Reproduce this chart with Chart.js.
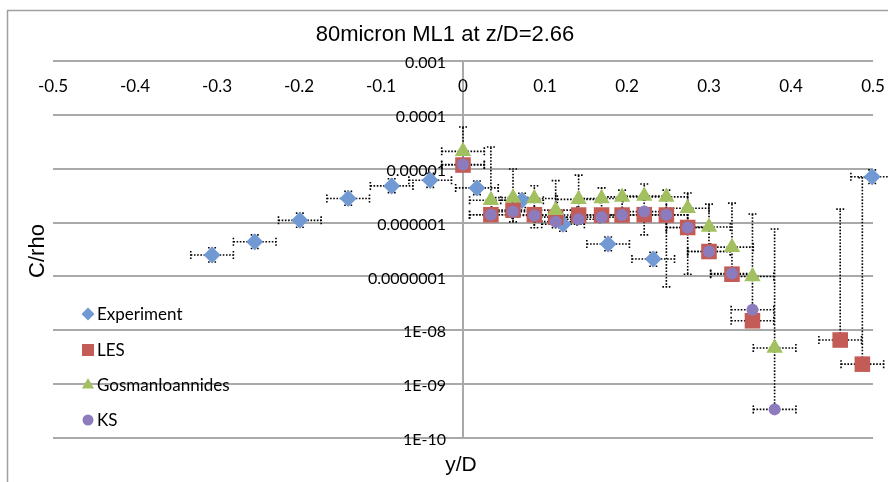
<!DOCTYPE html>
<html>
<head>
<meta charset="utf-8">
<script src="https://cdn.jsdelivr.net/npm/chart.js@4.4.1/dist/chart.umd.min.js"></script>
<style>
  html, body { margin: 0; padding: 0; background: #fff; }
  #wrap { width: 888px; height: 482px; position: relative; }
</style>
</head>
<body>
<div id="wrap"><canvas id="plumeChart"></canvas></div>
<script>
// ---------- axes ----------
const xTicks = [-0.5, -0.4, -0.3, -0.2, -0.1, 0, 0.1, 0.2, 0.3, 0.4, 0.5];
const xTickLabels = ['-0.5', '-0.4', '-0.3', '-0.2', '-0.1', '0', '0.1', '0.2', '0.3', '0.4', '0.5'];
const yTicks = [1e-3, 1e-4, 1e-5, 1e-6, 1e-7, 1e-8, 1e-9, 1e-10];
const yTickLabels = ['0.001', '0.0001', '0.00001', '0.000001', '0.0000001', '1E-08', '1E-09', '1E-10'];

// ---------- experiment ----------
const expX = [-0.306, -0.254, -0.199, -0.140, -0.087, -0.040, 0.017, 0.072, 0.122, 0.177, 0.232, 0.499];
const expY = [2.5e-7, 4.4e-7, 1.1e-6, 2.8e-6, 4.8e-6, 6.1e-6, 4.4e-6, 2.6e-6, 9.3e-7, 4.0e-7, 2.1e-7, 7.1e-6];
const expLo = [1.85e-7, 3.3e-7, 8.2e-7, 2.1e-6, 3.6e-6, 4.5e-6, 3.3e-6, 1.9e-6, 6.9e-7, 3.0e-7, 1.55e-7, 5.3e-6];
const expHi = [3.4e-7, 5.9e-7, 1.5e-6, 3.8e-6, 6.5e-6, 8.2e-6, 5.9e-6, 3.5e-6, 1.25e-6, 5.4e-7, 2.8e-7, 9.5e-6];

// ---------- LES ----------
const lesX = [0, 0.034, 0.061, 0.087, 0.113, 0.141, 0.169, 0.194, 0.221, 0.248, 0.274, 0.300, 0.328, 0.353, 0.460, 0.487];
const lesY = [1.17e-5, 1.4e-6, 1.7e-6, 1.4e-6, 1.26e-6, 1.38e-6, 1.38e-6, 1.38e-6, 1.4e-6, 1.38e-6, 8.1e-7, 2.9e-7, 1.1e-7, 1.5e-8, 6.6e-9, 2.35e-9];
const lesLo = [null, null, null, null, null, null, null, null, null, null, null, null, null, null, 6.6e-9, 2.35e-9];
const lesHi = [null, null, null, null, null, null, null, null, null, null, null, null, null, null, 1.78e-6, 6.8e-6];

// ---------- Gosman-Ioannides ----------
const gosX = [0, 0.034, 0.061, 0.087, 0.113, 0.141, 0.169, 0.194, 0.221, 0.248, 0.274, 0.300, 0.328, 0.353, 0.380];
const gosY = [2.1e-5, 2.6e-6, 2.9e-6, 2.8e-6, 1.7e-6, 2.7e-6, 2.8e-6, 3.0e-6, 3.1e-6, 3.0e-6, 1.84e-6, 8.3e-7, 3.5e-7, 1.0e-7, 4.7e-9];
const gosLo = [9.5e-6, 1.44e-6, 1.03e-6, 8.0e-7, 8.0e-7, 1.38e-6, 1.38e-6, 1.38e-6, 5.9e-7, 6.4e-8, 1.1e-7, 2.85e-7, 9.8e-8, 1.55e-8, 3.5e-10];
const gosHi = [5.96e-5, 2.53e-5, 9.9e-6, 4.84e-6, 6.0e-6, 7.6e-6, 4.4e-6, 4.0e-6, 5.2e-6, 4.0e-6, 3.54e-6, 2.2e-6, 2.3e-6, 1.44e-6, 7.6e-7];

// ---------- KS ----------
const ksX = [0, 0.034, 0.061, 0.087, 0.113, 0.141, 0.169, 0.194, 0.221, 0.248, 0.274, 0.300, 0.328, 0.353, 0.380];
const ksY = [1.2e-5, 1.4e-6, 1.6e-6, 1.35e-6, 1.04e-6, 1.15e-6, 1.26e-6, 1.38e-6, 1.6e-6, 1.4e-6, 8.1e-7, 2.9e-7, 1.13e-7, 2.4e-8, 3.4e-10];

// horizontal error half-width (y/D), same for every series
const xErr = 0.026;

const toPoints = (xs, ys) => xs.map((v, i) => ({ x: v, y: ys[i] }));

const FONT = 'Lato, "Liberation Sans", sans-serif';
const GRID = '#a9a9a9';

// gridlines, axis line, tick labels and titles
const frame = {
    id: 'frame',
    beforeDatasetsDraw(chart) {
        const { ctx, chartArea: a, scales: { x, y } } = chart;
        ctx.save();

        ctx.fillStyle = '#fff';
        ctx.fillRect(0, 0, chart.width, chart.height);

        ctx.strokeStyle = '#a0a0a0';
        ctx.lineWidth = 1.5;
        ctx.strokeRect(7.5, 10.5, chart.width + 10, chart.height + 10);

        ctx.strokeStyle = GRID;
        ctx.lineWidth = 2;
        yTicks.forEach(v => {
            const py = Math.round(y.getPixelForValue(v));
            ctx.beginPath();
            ctx.moveTo(a.left, py);
            ctx.lineTo(a.right, py);
            ctx.stroke();
        });

        const x0 = Math.round(x.getPixelForValue(0));
        ctx.beginPath();
        ctx.moveTo(x0, a.top);
        ctx.lineTo(x0, a.bottom);
        ctx.stroke();

        ctx.fillStyle = '#000';
        ctx.font = '16px ' + FONT;
        ctx.textAlign = 'right';
        ctx.textBaseline = 'middle';
        yTicks.forEach((v, i) => {
            ctx.fillText(yTickLabels[i], x0 - 17, y.getPixelForValue(v) + 2);
        });

        ctx.textAlign = 'center';
        ctx.font = '17px ' + FONT;
        const labelY = (y.getPixelForValue(1e-3) + y.getPixelForValue(1e-4)) / 2 - 1;
        xTicks.forEach((v, i) => {
            ctx.fillText(xTickLabels[i], x.getPixelForValue(v), labelY);
        });

        ctx.font = '22px "Liberation Sans", Arial, sans-serif';
        ctx.fillText('80micron ML1 at z/D=2.66', 445, 35);

        ctx.font = '21px "Liberation Sans", Arial, sans-serif';
        ctx.fillText('y/D', 461, 465);

        ctx.save();
        ctx.translate(38, 251);
        ctx.rotate(-Math.PI / 2);
        ctx.font = '22px "Liberation Sans", Arial, sans-serif';
        ctx.fillText('C/rho', 0, 0);
        ctx.restore();

        ctx.restore();
    }
};

// dotted error bars with small caps
const errorBars = {
    id: 'errorBars',
    beforeDatasetsDraw(chart) {
        const { ctx, scales: { x, y } } = chart;
        const cap = 4;
        ctx.save();
        ctx.strokeStyle = '#000';
        ctx.lineWidth = 1.6;
        ctx.setLineDash([1.6, 1.6]);

        const seg = (x1, y1, x2, y2) => {
            ctx.beginPath();
            ctx.moveTo(x1, y1);
            ctx.lineTo(x2, y2);
            ctx.stroke();
        };

        chart.data.datasets.forEach(ds => {
            ds.data.forEach((p, i) => {
                const px = x.getPixelForValue(p.x);
                const py = y.getPixelForValue(p.y);

                const xl = x.getPixelForValue(p.x - ds.xErr);
                const xr = x.getPixelForValue(p.x + ds.xErr);
                seg(xl, py, xr, py);
                seg(xl, py - cap, xl, py + cap);
                seg(xr, py - cap, xr, py + cap);

                const lo = ds.yLo ? ds.yLo[i] : null;
                const hi = ds.yHi ? ds.yHi[i] : null;
                if (hi != null) {
                    const pt = y.getPixelForValue(hi);
                    seg(px, py, px, pt);
                    seg(px - cap, pt, px + cap, pt);
                }
                if (lo != null && lo < p.y) {
                    const pb = y.getPixelForValue(lo);
                    seg(px, py, px, pb);
                    seg(px - cap, pb, px + cap, pb);
                }
            });
        });
        ctx.restore();
    }
};

// legend stacked inside the plot, lower left
const sideLegend = {
    id: 'sideLegend',
    afterDraw(chart) {
        const { ctx } = chart;
        const rows = [314, 350, 385, 420];
        ctx.save();
        ctx.font = '17px ' + FONT;
        ctx.textAlign = 'left';
        ctx.textBaseline = 'middle';
        chart.data.datasets.forEach((ds, i) => {
            ctx.fillStyle = ds.backgroundColor;
            Chart.helpers.drawPoint(ctx, {
                pointStyle: ds.pointStyle,
                radius: ds.legendRadius,
                rotation: 0,
                borderWidth: 0
            }, 88, rows[i]);
            ctx.fillStyle = '#000';
            ctx.fillText(ds.label, 97, rows[i] + 1);
        });
        ctx.restore();
    }
};

new Chart(document.getElementById('plumeChart'), {
    type: 'scatter',
    data: {
        datasets: [
            {
                label: 'Experiment',
                data: toPoints(expX, expY),
                yLo: expLo,
                yHi: expHi,
                xErr: xErr,
                pointStyle: 'rectRot',
                pointRadius: 8.5,
                legendRadius: 6.5,
                backgroundColor: '#7199d4',
                borderWidth: 0,
                order: 4,
                clip: false
            },
            {
                label: 'LES',
                data: toPoints(lesX, lesY),
                yLo: lesLo,
                yHi: lesHi,
                xErr: xErr,
                pointStyle: 'rect',
                pointRadius: 11,
                legendRadius: 8.5,
                backgroundColor: '#c35c57',
                borderWidth: 0,
                order: 3,
                clip: false
            },
            {
                label: 'GosmanIoannides',
                data: toPoints(gosX, gosY),
                yLo: gosLo,
                yHi: gosHi,
                xErr: xErr,
                pointStyle: 'triangle',
                pointRadius: 9.5,
                legendRadius: 7,
                backgroundColor: '#a2c05f',
                borderWidth: 0,
                order: 2,
                clip: false
            },
            {
                label: 'KS',
                data: toPoints(ksX, ksY),
                xErr: xErr,
                pointStyle: 'circle',
                pointRadius: 6,
                legendRadius: 5.5,
                backgroundColor: '#8c7bbd',
                borderWidth: 0,
                order: 1,
                clip: false
            }
        ]
    },
    options: {
        responsive: true,
        maintainAspectRatio: false,
        animation: false,
        layout: {
            padding: { left: 53, right: 15, top: 61, bottom: 44 }
        },
        plugins: {
            legend: { display: false },
            title: { display: false },
            tooltip: { enabled: false }
        },
        scales: {
            x: {
                type: 'linear',
                min: -0.5,
                max: 0.5,
                display: false
            },
            y: {
                type: 'logarithmic',
                min: 1e-10,
                max: 1e-3,
                display: false
            }
        }
    },
    plugins: [frame, errorBars, sideLegend]
});
</script>
</body>
</html>
